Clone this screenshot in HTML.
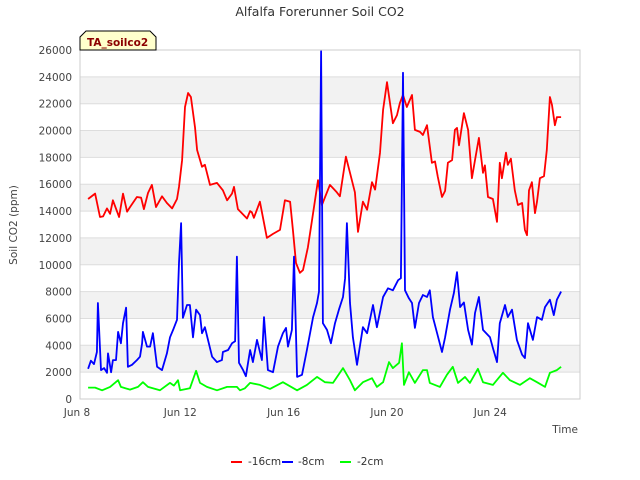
<!DOCTYPE html>
<html><head><meta charset="utf-8"><style>
body{margin:0;background:#fff;}
svg{display:block;font-family:"DejaVu Sans","Liberation Sans",sans-serif;}
</style></head><body>
<svg id="chart" width="640" height="480" viewBox="0 0 640 480" xmlns="http://www.w3.org/2000/svg">
<text x="320" y="16" text-anchor="middle" font-size="12.5" fill="#333">Alfalfa Forerunner Soil CO2</text>
<g id="bands"></g>
<g id="grid"></g>
<rect x="80" y="50" width="500" height="349" fill="none" stroke="#ccc"/>
<g id="yticks" font-size="10.5" fill="#444"></g>
<g id="xticks" font-size="10.5" fill="#444"></g>
<text transform="translate(17,225) rotate(-90)" text-anchor="middle" font-size="10.5" fill="#444">Soil CO2 (ppm)</text>
<text x="578" y="433" text-anchor="end" font-size="10.5" fill="#444">Time</text>
<g id="series"></g>
<g>
<path d="M80,50 L80,37 L86,31 L150,31 L156,37 L156,50 Z" fill="#ffffcc" stroke="#000" stroke-width="1"/>
<text x="87" y="46" font-size="10.5" font-weight="bold" fill="#8b0000">TA_soilco2</text>
</g>
<g font-size="10.5" fill="#333">
<g><line x1="231" y1="462" x2="242" y2="462" stroke="#f00" stroke-width="2"/><text x="248" y="465">-16cm</text></g>
<g><line x1="282" y1="462" x2="293" y2="462" stroke="#00f" stroke-width="2"/><text x="298" y="465">-8cm</text></g>
<g><line x1="340" y1="462" x2="351" y2="462" stroke="#0f0" stroke-width="2"/><text x="357" y="465">-2cm</text></g>
</g>
</svg>
<script>
const yTicks=[0,2000,4000,6000,8000,10000,12000,14000,16000,18000,20000,22000,24000,26000];
const xTickDays=[0,4,8,12,16];
const xTickLabels=["Jun 8","Jun 12","Jun 16","Jun 20","Jun 24"];
const redT=[.43,.70,.89,1.01,1.16,1.28,1.39,1.63,1.78,1.94,2.05,2.32,2.48,2.59,2.75,2.90,3.06,3.29,3.48,3.68,3.87,3.95,4.07,4.18,4.30,4.41,4.57,4.65,4.84,4.95,5.15,5.42,5.65,5.81,6.00,6.08,6.23,6.58,6.70,6.77,6.85,7.08,7.35,7.59,7.86,8.05,8.25,8.36,8.48,8.63,8.75,8.94,9.10,9.33,9.48,9.79,10.06,10.18,10.41,10.57,10.76,10.88,11.07,11.23,11.42,11.54,11.73,11.85,12.00,12.23,12.39,12.50,12.62,12.77,12.97,13.08,13.28,13.39,13.55,13.74,13.86,13.97,14.13,14.25,14.36,14.52,14.63,14.71,14.79,14.98,15.14,15.29,15.41,15.56,15.72,15.79,15.91,16.10,16.26,16.37,16.45,16.61,16.68,16.80,16.95,17.07,17.23,17.34,17.42,17.50,17.61,17.73,17.81,17.92,18.08,18.19,18.31,18.39,18.50,18.58,18.74];
const redV=[14900,15300,13560,13600,14200,13800,14800,13560,15300,13950,14300,15050,15000,14150,15350,15950,14300,15100,14600,14200,14900,15800,17800,21750,22800,22500,20250,18550,17300,17450,15950,16100,15550,14800,15300,15800,14150,13450,14000,13900,13500,14700,12000,12300,12600,14800,14700,12600,10130,9400,9600,11300,13350,16300,14450,15950,15400,15100,18050,16850,15400,12450,14700,14100,16150,15600,18350,21550,23600,20550,21150,22050,22650,21750,22650,20050,19900,19670,20400,17600,17700,16550,15050,15500,17600,17800,20050,20200,18900,21300,20050,16450,17800,19450,16850,17400,15050,14900,13200,17600,16450,18350,17450,17900,15550,14450,14600,12600,12200,15550,16150,13850,14700,16450,16600,18550,22500,21900,20400,21000,21000];
const blueT=[.43,.54,.66,.77,.81,.93,1.05,1.16,1.20,1.32,1.39,1.51,1.59,1.70,1.78,1.90,1.97,2.13,2.32,2.44,2.52,2.55,2.71,2.83,2.94,3.10,3.29,3.48,3.60,3.72,3.87,3.95,4.03,4.10,4.26,4.37,4.49,4.61,4.76,4.84,4.95,5.07,5.23,5.42,5.61,5.65,5.85,6.00,6.12,6.19,6.27,6.43,6.54,6.70,6.81,6.97,7.16,7.24,7.39,7.59,7.78,7.97,8.09,8.17,8.32,8.40,8.52,8.71,8.90,9.14,9.29,9.37,9.45,9.52,9.68,9.83,9.99,10.14,10.30,10.38,10.45,10.57,10.68,10.84,11.07,11.23,11.46,11.61,11.85,12.04,12.23,12.43,12.54,12.62,12.70,12.85,12.97,13.08,13.24,13.39,13.55,13.66,13.78,13.94,14.13,14.25,14.44,14.59,14.71,14.83,14.98,15.14,15.29,15.41,15.56,15.72,15.99,16.10,16.26,16.37,16.57,16.68,16.84,17.03,17.23,17.34,17.46,17.65,17.81,18.00,18.12,18.31,18.46,18.58,18.74];
const blueV=[2250,2850,2600,3500,7150,2150,2300,1950,3400,2000,2900,2900,5000,4150,5650,6800,2400,2550,2900,3150,4150,5000,3900,3900,4900,2400,2150,3400,4600,5150,5900,10150,13100,6050,7000,7000,4600,6650,6250,4900,5350,4400,3150,2750,2900,3500,3650,4150,4300,10600,2700,2150,1700,3650,2750,4400,2900,6100,2150,2000,3900,4900,5300,3900,5150,10600,1650,1800,3650,6100,7150,8000,25900,5650,5150,4150,5650,6650,7600,9000,13100,7150,4600,2550,5350,4900,7000,5350,7600,8250,8100,8850,9000,24300,8100,7500,7150,5300,7150,7750,7600,8100,6100,4900,3500,4600,6650,7900,9450,6850,7200,5150,4050,6400,7600,5150,4600,3800,2750,5650,7000,6100,6650,4400,3300,3050,5650,4400,6100,5900,6850,7400,6250,7400,8000];
const greenT=[.43,.70,.97,1.28,1.59,1.70,2.05,2.36,2.55,2.75,3.21,3.60,3.75,3.91,3.99,4.37,4.61,4.76,5.03,5.42,5.81,6.19,6.31,6.50,6.70,7.08,7.47,7.97,8.52,8.90,9.29,9.60,9.91,10.30,10.57,10.76,11.07,11.42,11.61,11.85,12.08,12.23,12.47,12.58,12.66,12.85,13.08,13.39,13.55,13.66,14.05,14.32,14.55,14.75,15.02,15.21,15.52,15.72,16.10,16.49,16.76,17.15,17.53,17.81,18.12,18.31,18.58,18.74];
const greenV=[850,850,650,900,1400,900,700,900,1250,900,650,1200,1000,1400,650,800,2100,1200,900,650,900,900,650,800,1200,1050,750,1250,650,1050,1650,1250,1200,2300,1400,650,1250,1550,900,1250,2750,2300,2700,4150,1050,2000,1200,2150,2150,1200,900,1800,2400,1200,1650,1200,2250,1250,1050,1950,1400,1050,1550,1250,900,1950,2150,2400];

const NS="http://www.w3.org/2000/svg";
function xs(d){return 77+25.83*d;}
function ys(v){return 399-v*349/26000;}
function mk(tag,attrs,parent){const e=document.createElementNS(NS,tag);for(const k in attrs)e.setAttribute(k,attrs[k]);parent.appendChild(e);return e;}
const bands=document.getElementById('bands'),grid=document.getElementById('grid'),yt=document.getElementById('yticks'),xt=document.getElementById('xticks'),ser=document.getElementById('series');
for(let i=0;i<yTicks.length-1;i++){
  if(i%2===1){
    const r=mk('rect',{x:80,y:ys(yTicks[i+1]),width:500,height:ys(yTicks[i])-ys(yTicks[i+1]),fill:'#f2f2f2'},bands);
    
    
  }
}
yTicks.forEach(v=>{
  const l=mk('line',{x1:80,x2:580,y1:ys(v),y2:ys(v),stroke:'#ddd'},grid);
  
  
  const t=mk('text',{x:72,y:ys(v)+4,'text-anchor':'end'},yt);
  t.textContent=v;
  
  
});
xTickDays.forEach((d,i)=>{
  const t=mk('text',{x:xs(d),y:416,'text-anchor':'middle'},xt);
  t.textContent=xTickLabels[i];
  
  
});
function draw(T,V,color,name){
  const p=mk('polyline',{points:T.map((t,i)=>xs(t).toFixed(1)+','+ys(V[i]).toFixed(1)).join(' '),fill:'none',stroke:color,'stroke-width':1.8,'stroke-linejoin':'round'},ser);
  
  
}
draw(redT,redV,'#f00','series-16cm');
draw(blueT,blueV,'#00f','series-8cm');
draw(greenT,greenV,'#0f0','series-2cm');
</script>
</body></html>
